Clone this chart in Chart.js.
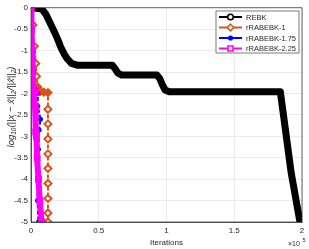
<!DOCTYPE html>
<html>
<head>
<meta charset="utf-8">
<title>REBK convergence</title>
<script src="https://cdn.jsdelivr.net/npm/chart.js@4.4.0/dist/chart.umd.min.js"></script>
<style>
  body { margin: 0; background: #fff; }
  #chart { display: block; }
</style>
</head>
<body>
<canvas id="chart" width="309" height="249"></canvas>
<script>
// series values (x = iterations, y = log10 relative error)
const rebkX = [1000, 8000, 11000, 14000, 17000, 19500, 22000, 24500, 27000, 30000, 34000, 60000, 62000, 64000, 67000, 93000, 95000, 97000, 99000, 102000, 184000, 188000, 192000, 198500];
const rebkY = [0, -0.03, -0.15, -0.35, -0.55, -0.72, -0.92, -1.08, -1.2, -1.3, -1.34, -1.34, -1.42, -1.52, -1.57, -1.57, -1.65, -1.8, -1.92, -1.96, -1.96, -2.9, -3.85, -5.0];

const r1X = [0, 1500, 2500, 3500, 4000, 5000, 7000, 9500, 12500, 12500, 12500, 12500, 12500, 12500, 12500, 12500, 12500, 12500];
const r1Y = [0, -0.4, -0.9, -1.3, -1.6, -1.85, -1.95, -1.97, -1.98, -2.37, -2.71, -3.06, -3.41, -3.75, -4.1, -4.45, -4.79, -5.0];

const r175X = [0, 800, 1200, 1800, 3000, 5000, 5000, 7000, 6000, 5500, 5000, 4800, 5500];
const r175Y = [0, -0.5, -1.0, -1.5, -1.9, -2.0, -2.3, -2.6, -2.85, -3.3, -3.8, -4.5, -5.0];

const r225X = [0, 300, 800, 1200, 1500, 3500, 2000, 3000, 3500, 4000, 4500, 5500, 6500, 7800];
const r225Y = [0, -0.5, -1.0, -1.5, -1.9, -1.97, -2.05, -2.3, -2.9, -3.0, -3.5, -4.0, -4.5, -5.0];

const seriesNames = ['REBK', 'rRABEBK-1', 'rRABEBK-1.75', 'rRABEBK-2.25'];
const xTickLabels = ['0', '0.5', '1', '1.5', '2'];

const pts = (xs, ys) => xs.map((x, i) => ({ x: x, y: ys[i] }));

const colors = ['#000000', '#D95319', '#0000FF', '#FF00FF'];

// legend, box and axis titles, MATLAB style
const decor = {
    id: 'decor',
    afterDraw(chart) {
        const ctx = chart.ctx;
        const a = chart.chartArea;
        ctx.save();

        // axes box
        ctx.strokeStyle = '#262626';
        ctx.lineWidth = 0.7;
        ctx.strokeRect(a.left, a.top, a.right - a.left, a.bottom - a.top);

        // x title + exponent
        ctx.fillStyle = '#262626';
        ctx.font = '8px "Liberation Sans", Arial, sans-serif';
        ctx.textAlign = 'center';
        ctx.textBaseline = 'middle';
        ctx.fillText('Iterations', (a.left + a.right) / 2, 243);
        ctx.textAlign = 'left';
        ctx.font = '7px "Liberation Sans", Arial, sans-serif';
        ctx.fillText('\u00d710', 288, 244);
        ctx.font = '5.5px "Liberation Sans", Arial, sans-serif';
        ctx.fillText('5', 302.5, 240);

        // y title (rotated, with subscripts)
        const segs = [['log', 0], ['10', 1], ['(||x \u2212 x\u0302||', 0], ['2', 1], ['/||x\u0302||', 0], ['2', 1], [')', 0]];
        const big = 'italic 9.5px "Liberation Sans", Arial, sans-serif';
        const small = 'italic 6.5px "Liberation Sans", Arial, sans-serif';
        let total = 0;
        segs.forEach(s => { ctx.font = s[1] ? small : big; total += ctx.measureText(s[0]).width; });
        ctx.translate(10, 107);
        ctx.rotate(-Math.PI / 2);
        ctx.textAlign = 'left';
        ctx.textBaseline = 'alphabetic';
        let cx = -total / 2;
        segs.forEach(s => {
            ctx.font = s[1] ? small : big;
            ctx.fillText(s[0], cx, s[1] ? 6 : 3.5);
            cx += ctx.measureText(s[0]).width;
        });
        ctx.setTransform(1, 0, 0, 1, 0, 0);

        // legend
        const lx = 216, ly = 11, lw = 83, lh = 42;
        ctx.fillStyle = '#fff';
        ctx.fillRect(lx, ly, lw, lh);
        ctx.strokeStyle = '#262626';
        ctx.lineWidth = 0.6;
        ctx.strokeRect(lx, ly, lw, lh);
        const rows = [17, 27.5, 38, 48.5];
        ctx.font = '7.5px "Liberation Sans", Arial, sans-serif';
        ctx.textBaseline = 'middle';
        ctx.textAlign = 'left';
        seriesNames.forEach((name, i) => {
            const y = rows[i], mx = 230.5;
            ctx.strokeStyle = colors[i];
            ctx.lineWidth = 2;
            ctx.beginPath();
            ctx.moveTo(219, y);
            ctx.lineTo(242, y);
            ctx.stroke();
            ctx.lineWidth = 1.6;
            ctx.beginPath();
            if (i === 0) {
                ctx.arc(mx, y, 2.8, 0, Math.PI * 2);
                ctx.fillStyle = '#fff'; ctx.fill(); ctx.stroke();
            } else if (i === 1) {
                ctx.moveTo(mx, y - 3.3); ctx.lineTo(mx + 3.3, y); ctx.lineTo(mx, y + 3.3); ctx.lineTo(mx - 3.3, y); ctx.closePath();
                ctx.fillStyle = '#fff'; ctx.fill(); ctx.stroke();
            } else if (i === 2) {
                ctx.arc(mx, y, 2.6, 0, Math.PI * 2);
                ctx.fillStyle = colors[i]; ctx.fill();
            } else {
                ctx.rect(mx - 2.5, y - 2.5, 5, 5);
                ctx.fillStyle = '#fff'; ctx.fill(); ctx.stroke();
            }
            ctx.fillStyle = '#262626';
            ctx.fillText(name, 246, y + 0.5);
        });
        ctx.restore();
    }
};

// the dense run of markers near -2 reads as a solid blob
const r1Fill = r1Y.map((y, i) => (i >= 5 && i <= 8) ? colors[1] : '#fff');

new Chart(document.getElementById('chart'), {
    type: 'scatter',
    data: {
        datasets: [
            {
                label: seriesNames[0], data: pts(rebkX, rebkY), order: 4,
                showLine: true, borderColor: colors[0], borderWidth: 7,
                borderCapStyle: 'round', borderJoinStyle: 'round',
                pointRadius: 0
            },
            {
                label: seriesNames[1], data: pts(r1X, r1Y), order: 3,
                showLine: true, borderColor: colors[1], borderWidth: 2, borderDash: [4, 2],
                pointStyle: 'rectRot', pointRadius: 3.5, pointBorderWidth: 2,
                pointBackgroundColor: r1Fill, pointBorderColor: colors[1]
            },
            {
                label: seriesNames[2], data: pts(r175X, r175Y), order: 2,
                showLine: true, borderColor: colors[2], borderWidth: 2, borderDash: [4, 2],
                pointStyle: 'circle', pointRadius: 2.5, pointBorderWidth: 0,
                pointBackgroundColor: colors[2]
            },
            {
                label: seriesNames[3], data: pts(r225X, r225Y), order: 1,
                showLine: true, borderColor: colors[3], borderWidth: 6,
                borderJoinStyle: 'round',
                pointStyle: 'rect', pointRadius: 3.5, pointBorderWidth: 2,
                pointBackgroundColor: colors[3], pointBorderColor: colors[3]
            }
        ]
    },
    options: {
        responsive: false,
        animation: false,
        layout: { padding: { top: 4, right: 7, left: 0, bottom: 0 } },
        plugins: { legend: { display: false }, tooltip: { enabled: false } },
        scales: {
            x: {
                type: 'linear', min: 0, max: 200000,
                afterFit: s => { s.height = 27; },
                afterBuildTicks: s => { s.ticks = [0, 50000, 100000, 150000, 200000].map(v => ({ value: v })); },
                ticks: {
                    autoSkip: false, maxRotation: 0, padding: 4, color: '#262626',
                    font: { family: '"Liberation Sans", Arial, sans-serif', size: 8 },
                    callback: (v, i) => xTickLabels[i]
                },
                grid: { color: '#e6e6e6', lineWidth: 0.8, drawTicks: false },
                border: { color: '#262626', width: 0.7 }
            },
            y: {
                type: 'linear', min: -5, max: 0,
                afterFit: s => { s.width = 31; },
                ticks: {
                    stepSize: 0.5, autoSkip: false, padding: 3, color: '#262626',
                    font: { family: '"Liberation Sans", Arial, sans-serif', size: 8 },
                    callback: v => String(Math.round(v * 10) / 10)
                },
                grid: { color: '#e6e6e6', lineWidth: 0.8, drawTicks: false },
                border: { color: '#262626', width: 0.7 }
            }
        }
    },
    plugins: [decor]
});
</script>
</body>
</html>
